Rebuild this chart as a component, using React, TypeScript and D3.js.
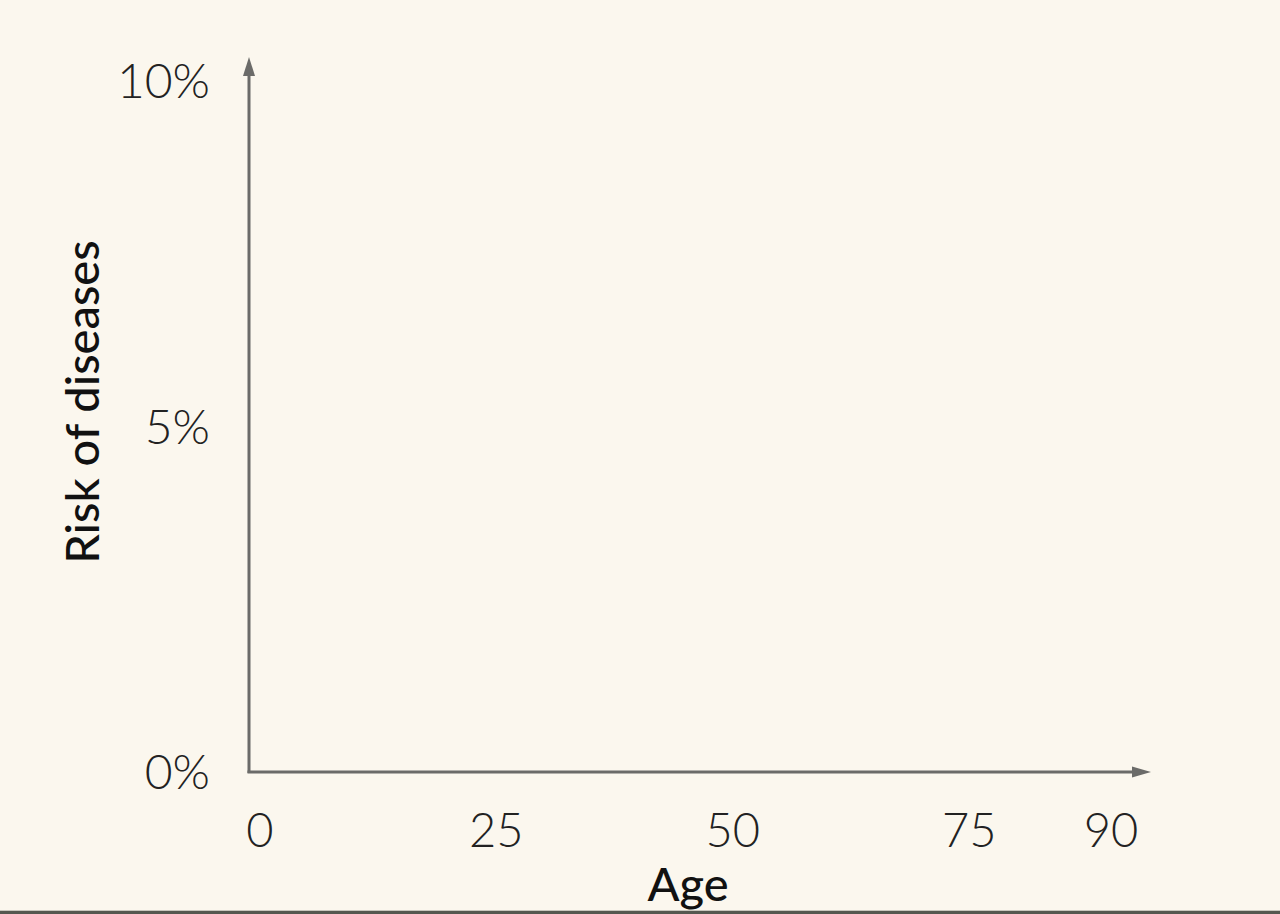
import React from "react";
import * as d3 from "d3";

const xTicks: number[] = [0, 25, 50, 75, 90];
const yTicks: number[] = [0, 5, 10];
const xTitle = "Age";
const yTitle = "Risk of diseases";

const W = 1280;
const H = 914;

export default function App() {
  const x = d3.scaleLinear().domain([0, 90]).range([260, 1111]);
  const y = d3.scaleLinear().domain([0, 10]).range([772, 81]);
  const axisColor = "#6b6b69";
  const originX = 249;
  const originY = 772;
  const font = "Lato, 'Noto Sans', sans-serif";
  return (
    <div style={{ position: "fixed", left: 0, top: 0, width: W, height: H }}>
      <svg width={W} height={H} style={{ display: "block" }}>
        <rect x={0} y={0} width={W} height={H} fill="#fbf7ee" />
        {/* y axis */}
        <line x1={originX} y1={originY + 1} x2={originX} y2={72} stroke={axisColor} strokeWidth={3} />
        <path d={`M${originX},57 L${originX - 6},76 L${originX + 6},76 Z`} fill={axisColor} />
        {/* x axis */}
        <line x1={originX - 1.5} y1={originY} x2={1136} y2={originY} stroke={axisColor} strokeWidth={3} />
        <path d={`M1151,${originY} L1132,${originY - 5.5} L1132,${originY + 5.5} Z`} fill={axisColor} />
        {yTicks.map((t) => (
          <text
            key={"y" + t}
            x={210}
            y={y(t)}
            dy="0.36em"
            textAnchor="end"
            fontFamily={font}
            fontWeight={300}
            fontSize={48}
            fill="#222"
          >
            {t + "%"}
          </text>
        ))}
        {xTicks.map((t) => (
          <text
            key={"x" + t}
            x={x(t)}
            y={847}
            textAnchor="middle"
            fontFamily={font}
            fontWeight={300}
            fontSize={47}
            fill="#222"
          >
            {t}
          </text>
        ))}
        <text
          x={688}
          y={901}
          textAnchor="middle"
          fontFamily={font}
          fontWeight={500}
          fontSize={47}
          fill="#111"
        >
          {xTitle}
        </text>
        <text
          transform="translate(99,402) rotate(-90)"
          textAnchor="middle"
          fontFamily={font}
          fontWeight={500}
          fontSize={47}
          fill="#111"
        >
          {yTitle}
        </text>
        <rect x={0} y={910} width={W} height={1} fill="#c9c6bd" />
        <rect x={0} y={911} width={W} height={3} fill="#55574f" />
      </svg>
    </div>
  );
}
